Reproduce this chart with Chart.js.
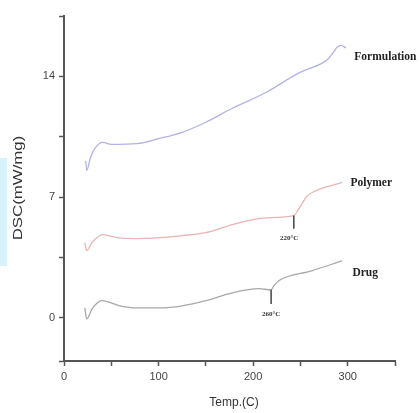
<!DOCTYPE html>
<html lang="en">
  <head>
    <meta charset="UTF-8" />
    <script src="https://cdn.jsdelivr.net/npm/chart.js"></script>
    <title>DSC</title>
    <style>
      html, body { margin: 0; padding: 0; background: #fff; }
      #box { position: relative; width: 420px; height: 413px; }
    </style>
  </head>
  <body>
    <div id="box"><canvas id="myChart"></canvas></div>
  </body>
  <script>
    // valores
    const formT = [23, 24, 28, 33, 41, 50, 77, 101, 125, 150, 178, 214, 248, 273, 280, 285, 289, 293, 298];
    const formV = [9.1, 8.55, 9.3, 9.85, 10.17, 10.06, 10.1, 10.4, 10.76, 11.34, 12.15, 13.08, 14.19, 14.77, 15.05, 15.4, 15.7, 15.8, 15.65];

    const polyT = [22, 24, 30, 41, 56, 77, 101, 125, 150, 178, 213, 243, 248, 256, 259, 294];
    const polyV = [4.36, 3.9, 4.4, 4.83, 4.65, 4.6, 4.65, 4.77, 4.94, 5.4, 5.8, 5.93, 6.3, 6.98, 7.15, 7.85];

    const drugT = [22, 24, 30, 40, 59, 77, 101, 125, 150, 178, 206, 219, 222, 227, 262, 294];
    const drugV = [0.58, -0.06, 0.55, 1.0, 0.7, 0.58, 0.58, 0.7, 1.0, 1.45, 1.69, 1.63, 1.86, 2.15, 2.73, 3.3];

    const xTicks = [0, 50, 100, 150, 200, 250, 300, 350];
    const yTicks = [-2.5, 0, 3.5, 7, 10.5, 14, 17.5];

    // nomes das curvas e picos
    const seriesNames = ["Formulation", "Polymer", "Drug"];
    const nameT = [307, 303, 305];
    const nameV = [15.1, 7.8, 2.6];
    const peakLabels = ["220°C", "260°C"];
    const peakT = [243, 219];
    const peakTop = [5.93, 1.63];
    const peakBottom = [5.17, 0.81];
    const peakLabelT = [238, 219];
    const peakLabelV = [4.6, 0.23];

    function pts(t, v) {
      return t.map((x, i) => ({ x: x, y: v[i] }));
    }

    const anotacoes = {
      id: "anotacoes",
      beforeDraw(chart) {
        // mancha azul clara na borda esquerda
        const c = chart.ctx;
        c.save();
        c.fillStyle = "rgba(200,235,250,0.7)";
        c.fillRect(0, 158, 7, 108);
        c.restore();
      },
      afterDatasetsDraw(chart) {
        const c = chart.ctx;
        const xs = chart.scales.x;
        const ys = chart.scales.y;
        c.save();
        c.fillStyle = "#222";
        c.font = "bold 11.5px 'Liberation Serif'";
        c.textBaseline = "middle";
        c.textAlign = "left";
        seriesNames.forEach((n, i) => {
          c.fillText(n, xs.getPixelForValue(nameT[i]), ys.getPixelForValue(nameV[i]));
        });
        c.strokeStyle = "#444";
        c.lineWidth = 1.5;
        peakT.forEach((t, i) => {
          const px = xs.getPixelForValue(t);
          c.beginPath();
          c.moveTo(px, ys.getPixelForValue(peakTop[i]));
          c.lineTo(px, ys.getPixelForValue(peakBottom[i]));
          c.stroke();
        });
        c.font = "bold 7px 'Liberation Serif'";
        c.textAlign = "center";
        c.fillStyle = "#333";
        peakLabels.forEach((l, i) => {
          c.fillText(l, xs.getPixelForValue(peakLabelT[i]), ys.getPixelForValue(peakLabelV[i]));
        });

        // titulos dos eixos
        c.fillStyle = "#333";
        c.font = "12px 'Liberation Sans'";
        c.textAlign = "center";
        c.fillText("Temp.(C)", 234, 403);
        c.translate(19, 188);
        c.rotate(-Math.PI / 2);
        c.scale(1.4, 1);
        c.fillText("DSC(mW/mg)", 0, 0);
        c.restore();
      },
    };

    const linha = { borderWidth: 1.3, pointRadius: 0, showLine: true, cubicInterpolationMode: "monotone", fill: false };

    new Chart(document.getElementById("myChart"), {
      type: "scatter",
      data: {
        datasets: [
          Object.assign({ label: seriesNames[0], data: pts(formT, formV), borderColor: "rgb(178,178,230)" }, linha),
          Object.assign({ label: seriesNames[1], data: pts(polyT, polyV), borderColor: "rgb(234,180,180)" }, linha),
          Object.assign({ label: seriesNames[2], data: pts(drugT, drugV), borderColor: "rgb(168,168,168)" }, linha),
        ],
      },
      options: {
        responsive: true,
        maintainAspectRatio: false,
        animation: false,
        layout: { padding: { top: 16, right: 25, left: 0, bottom: 0 } },
        plugins: { legend: { display: false }, tooltip: { enabled: false } },
        scales: {
          x: {
            type: "linear",
            min: 0,
            max: 350,
            afterBuildTicks: (s) => { s.ticks = xTicks.map((v) => ({ value: v })); },
            afterFit: (s) => { s.height = 52; },
            border: { color: "#555", width: 2 },
            grid: { drawOnChartArea: false, color: "#555", tickLength: 5, tickWidth: 1.5 },
            ticks: {
              color: "#444",
              font: { family: "'Liberation Sans'", size: 11 },
              padding: 4,
              maxRotation: 0,
              callback: (v) => (v % 100 === 0 ? v : ""),
            },
          },
          y: {
            type: "linear",
            min: -2.5,
            max: 17.5,
            afterBuildTicks: (s) => { s.ticks = yTicks.map((v) => ({ value: v })); },
            afterFit: (s) => { s.width = 64; },
            border: { color: "#555", width: 2 },
            grid: { drawOnChartArea: false, color: "#555", tickLength: 5, tickWidth: 1.5 },
            ticks: {
              color: "#444",
              font: { family: "'Liberation Sans'", size: 11 },
              padding: 4,
              callback: (v) => (v % 7 === 0 ? v : ""),
            },
          },
        },
      },
      plugins: [anotacoes],
    });
  </script>
</html>
